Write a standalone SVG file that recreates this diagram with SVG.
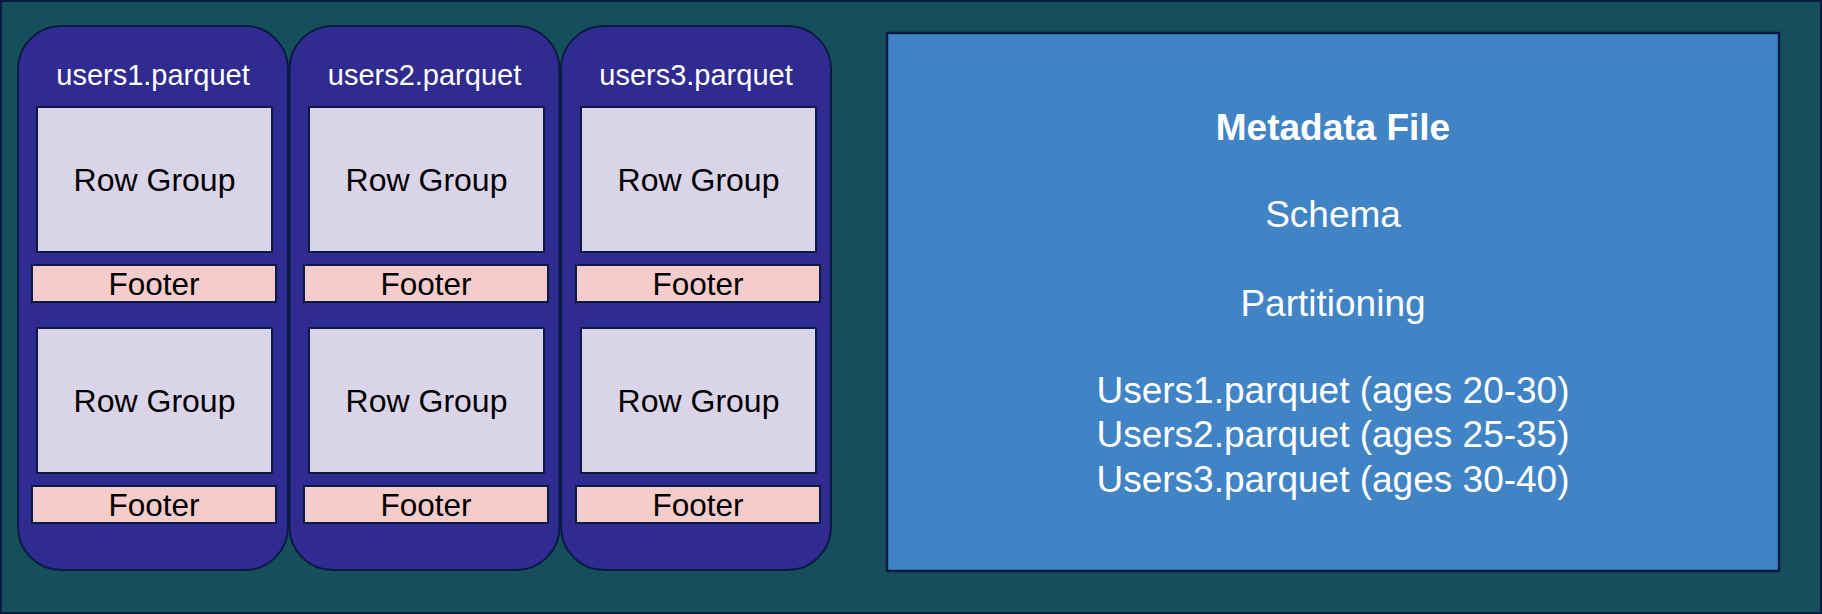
<svg xmlns="http://www.w3.org/2000/svg" width="1822" height="614" viewBox="0 0 1822 614">
<style>
.bg{fill:#164F5C;stroke:#0B1A40;stroke-width:2}
.file{fill:#2F2B91;stroke:#0B1A40;stroke-width:2}
.rg{fill:#DAD4E8;stroke:#0B1A40;stroke-width:2}
.ft{fill:#F4CCCC;stroke:#0B1A40;stroke-width:2}
.meta{fill:#4084C6;stroke:#0B1A40;stroke-width:2.5}
text{font-family:"Liberation Sans",Arial,Helvetica,sans-serif;text-anchor:middle}
.title{fill:#FFFFFF;font-size:29px}
.rgt{fill:#000000;font-size:32px}
.ftt{fill:#000000;font-size:31.5px}
.mt{fill:#FFFFFF;font-size:37px}
.mtb{fill:#FFFFFF;font-size:37px;font-weight:bold}
</style>
<rect class="bg" x="1" y="1" width="1820" height="612"/>
<g id="file1">
<rect class="file" x="18" y="26" width="270" height="544" rx="43" ry="43"/>
<text class="title" x="153" y="85">users1.parquet</text>
<rect class="rg" x="37" y="107" width="235" height="145"/>
<text class="rgt" x="154.5" y="191">Row Group</text>
<rect class="ft" x="32" y="265" width="244" height="37"/>
<text class="ftt" x="154" y="294.5">Footer</text>
<rect class="rg" x="37" y="328" width="235" height="145"/>
<text class="rgt" x="154.5" y="412">Row Group</text>
<rect class="ft" x="32" y="486" width="244" height="37"/>
<text class="ftt" x="154" y="515.5">Footer</text>
</g>
<g id="file2">
<rect class="file" x="289.5" y="26" width="270" height="544" rx="43" ry="43"/>
<text class="title" x="424.5" y="85">users2.parquet</text>
<rect class="rg" x="309" y="107" width="235" height="145"/>
<text class="rgt" x="426.5" y="191">Row Group</text>
<rect class="ft" x="304" y="265" width="244" height="37"/>
<text class="ftt" x="426" y="294.5">Footer</text>
<rect class="rg" x="309" y="328" width="235" height="145"/>
<text class="rgt" x="426.5" y="412">Row Group</text>
<rect class="ft" x="304" y="486" width="244" height="37"/>
<text class="ftt" x="426" y="515.5">Footer</text>
</g>
<g id="file3">
<rect class="file" x="561" y="26" width="270" height="544" rx="43" ry="43"/>
<text class="title" x="696" y="85">users3.parquet</text>
<rect class="rg" x="581" y="107" width="235" height="145"/>
<text class="rgt" x="698.5" y="191">Row Group</text>
<rect class="ft" x="576" y="265" width="244" height="37"/>
<text class="ftt" x="698" y="294.5">Footer</text>
<rect class="rg" x="581" y="328" width="235" height="145"/>
<text class="rgt" x="698.5" y="412">Row Group</text>
<rect class="ft" x="576" y="486" width="244" height="37"/>
<text class="ftt" x="698" y="515.5">Footer</text>
</g>
<g id="metadata">
<rect class="meta" x="887" y="33" width="892" height="538"/>
<text class="mtb" x="1333" y="140">Metadata File</text>
<text class="mt" x="1333" y="227">Schema</text>
<text class="mt" x="1333" y="316">Partitioning</text>
<text class="mt" x="1333" y="403">Users1.parquet (ages 20-30)</text>
<text class="mt" x="1333" y="447">Users2.parquet (ages 25-35)</text>
<text class="mt" x="1333" y="492">Users3.parquet (ages 30-40)</text>
</g>
<g id="connectors"></g>
</svg>
